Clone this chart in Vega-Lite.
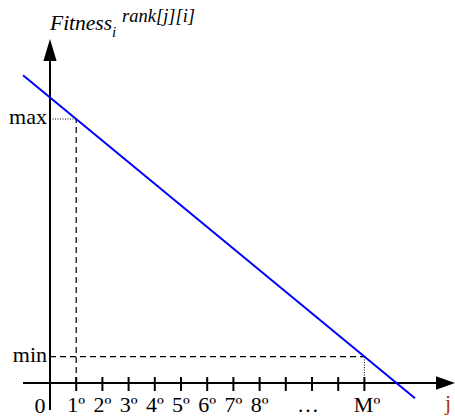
{
  "$schema": "https://vega.github.io/schema/vega-lite/v6.json",
  "width": 455,
  "height": 417,
  "padding": 0,
  "autosize": {"type": "none"},
  "background": "white",
  "config": {"view": {"stroke": null}},
  "datasets": {
    "axes": [
      {"x": -1.031, "x2": 14.75, "y": 0, "y2": 0},
      {"x": 0, "x2": 0, "y": -1.023, "y2": 12.3}
    ],
    "ticks": [
      {"j": 1}, {"j": 2}, {"j": 3}, {"j": 4}, {"j": 5}, {"j": 6},
      {"j": 7}, {"j": 8}, {"j": 9}, {"j": 10}, {"j": 11}, {"j": 12}
    ],
    "dashed": [
      {"x": 1, "x2": 1, "y": 0, "y2": 10},
      {"x": 0, "x2": 12, "y": 1, "y2": 1}
    ],
    "dotted": [
      {"x": 0, "x2": 1, "y": 10, "y2": 10},
      {"x": 12, "x2": 12, "y": 0, "y2": 1}
    ],
    "line": [
      {"j": -1.03, "fitness": 11.66},
      {"j": 13.93, "fitness": -0.58}
    ],
    "ticklabels": [
      {"j": 1, "label": "1º"}, {"j": 2, "label": "2º"}, {"j": 3, "label": "3º"},
      {"j": 4, "label": "4º"}, {"j": 5, "label": "5º"}, {"j": 6, "label": "6º"},
      {"j": 7, "label": "7º"}, {"j": 8, "label": "8º"}, {"j": 9.85, "label": "…"},
      {"j": 12.1, "label": "Mº"}
    ],
    "ylabels": [
      {"v": 10, "label": "max"},
      {"v": 1, "label": "min"}
    ]
  },
  "layer": [
    {
      "data": {"name": "axes"},
      "mark": {"type": "rule", "color": "black", "strokeWidth": 2},
      "encoding": {
        "x": {"field": "x", "type": "quantitative", "scale": {"domain": [-1.9084, 15.458], "nice": false, "zero": false}, "axis": null},
        "x2": {"field": "x2"},
        "y": {"field": "y", "type": "quantitative", "scale": {"domain": [-1.2879, 14.5076], "nice": false, "zero": false}, "axis": null},
        "y2": {"field": "y2"}
      }
    },
    {
      "data": {"name": "ticks"},
      "mark": {"type": "rule", "color": "black", "strokeWidth": 2},
      "encoding": {
        "x": {"field": "j", "type": "quantitative"},
        "y": {"datum": 0.227},
        "y2": {"datum": -0.303}
      }
    },
    {
      "data": {"name": "dashed"},
      "mark": {"type": "rule", "color": "black", "strokeWidth": 1.2, "strokeDash": [6, 4]},
      "encoding": {
        "x": {"field": "x", "type": "quantitative"},
        "x2": {"field": "x2"},
        "y": {"field": "y", "type": "quantitative"},
        "y2": {"field": "y2"}
      }
    },
    {
      "data": {"name": "dotted"},
      "mark": {"type": "rule", "color": "black", "strokeWidth": 1, "strokeDash": [1, 1.5]},
      "encoding": {
        "x": {"field": "x", "type": "quantitative"},
        "x2": {"field": "x2"},
        "y": {"field": "y", "type": "quantitative"},
        "y2": {"field": "y2"}
      }
    },
    {
      "data": {"name": "line"},
      "mark": {"type": "line", "color": "#0000ff", "strokeWidth": 2},
      "encoding": {
        "x": {"field": "j", "type": "quantitative"},
        "y": {"field": "fitness", "type": "quantitative"}
      }
    },
    {
      "data": {"values": [{"x": 0, "y": 12.614}]},
      "mark": {"type": "point", "shape": "M0,-1L0.6,1L-0.6,1Z", "size": 484, "filled": true, "color": "black", "opacity": 1},
      "encoding": {
        "x": {"field": "x", "type": "quantitative"},
        "y": {"field": "y", "type": "quantitative"}
      }
    },
    {
      "data": {"values": [{"x": 15.095, "y": 0}]},
      "mark": {"type": "point", "shape": "M1,0L-1,0.72L-1,-0.72Z", "size": 361, "filled": true, "color": "black", "opacity": 1},
      "encoding": {
        "x": {"field": "x", "type": "quantitative"},
        "y": {"field": "y", "type": "quantitative"}
      }
    },
    {
      "data": {"name": "ticklabels"},
      "mark": {"type": "text", "font": "Liberation Serif", "fontSize": 22, "align": "center", "baseline": "alphabetic", "color": "black"},
      "encoding": {
        "x": {"field": "j", "type": "quantitative"},
        "y": {"datum": -1.098},
        "text": {"field": "label"}
      }
    },
    {
      "data": {"name": "ylabels"},
      "mark": {"type": "text", "font": "Liberation Serif", "fontSize": 22, "align": "right", "baseline": "alphabetic", "dx": -3, "dy": 5, "color": "black"},
      "encoding": {
        "x": {"datum": 0},
        "y": {"field": "v", "type": "quantitative"},
        "text": {"field": "label"}
      }
    },
    {
      "data": {"values": [{"j": -0.382, "v": -1.136, "label": "0"}]},
      "mark": {"type": "text", "font": "Liberation Serif", "fontSize": 22, "align": "center", "baseline": "alphabetic", "color": "black"},
      "encoding": {
        "x": {"field": "j", "type": "quantitative"},
        "y": {"field": "v", "type": "quantitative"},
        "text": {"field": "label"}
      }
    },
    {
      "data": {"values": [{"j": 15.19, "v": -1.023, "label": "j"}]},
      "mark": {"type": "text", "font": "Liberation Serif", "fontSize": 22, "align": "center", "baseline": "alphabetic", "color": "#b03a0c"},
      "encoding": {
        "x": {"field": "j", "type": "quantitative"},
        "y": {"field": "v", "type": "quantitative"},
        "text": {"field": "label"}
      }
    },
    {
      "data": {"values": [{"j": 0, "v": 13.371, "label": "Fitness"}]},
      "mark": {"type": "text", "font": "Liberation Serif", "fontStyle": "italic", "fontSize": 21.5, "align": "left", "baseline": "alphabetic", "color": "black"},
      "encoding": {
        "x": {"field": "j", "type": "quantitative"},
        "y": {"field": "v", "type": "quantitative"},
        "text": {"field": "label"}
      }
    },
    {
      "data": {"values": [{"j": 2.366, "v": 13.1, "label": "i"}]},
      "mark": {"type": "text", "font": "Liberation Serif", "fontStyle": "italic", "fontSize": 15, "align": "left", "baseline": "alphabetic", "color": "black"},
      "encoding": {
        "x": {"field": "j", "type": "quantitative"},
        "y": {"field": "v", "type": "quantitative"},
        "text": {"field": "label"}
      }
    },
    {
      "data": {"values": [{"j": 2.75, "v": 13.674, "label": "rank[j][i]"}]},
      "mark": {"type": "text", "font": "Liberation Serif", "fontStyle": "italic", "fontSize": 18.5, "align": "left", "baseline": "alphabetic", "color": "black"},
      "encoding": {
        "x": {"field": "j", "type": "quantitative"},
        "y": {"field": "v", "type": "quantitative"},
        "text": {"field": "label"}
      }
    }
  ]
}
